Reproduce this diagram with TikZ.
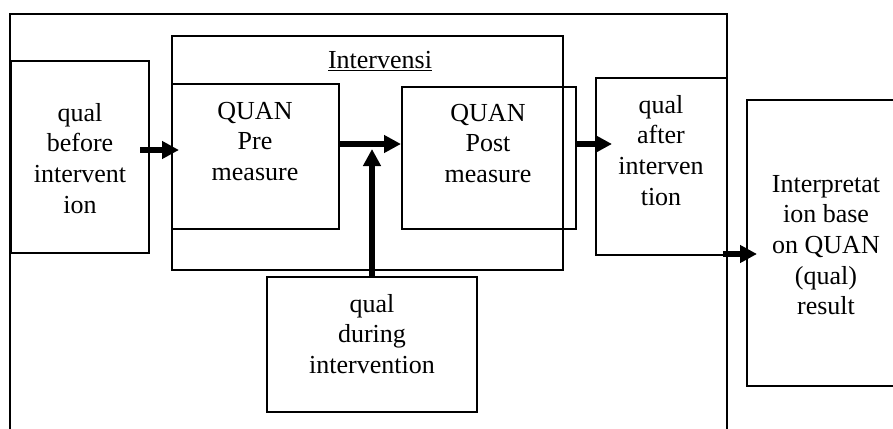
\documentclass[tikz,border=0pt]{standalone}
\usepackage{fontspec}
\setmainfont{Liberation Serif}
\usetikzlibrary{arrows.meta,calc}
\tikzset{
  box/.style={draw, line width=1.5pt, inner sep=0pt, outer sep=0pt, rectangle},
  txt/.style={align=center, inner sep=0pt, anchor=north, font=\fontsize{26}{30.7}\selectfont},
  arr/.style={line width=5.5pt, -{Triangle[length=17pt,width=17pt]}}
}
\begin{document}
\begin{tikzpicture}[x=1pt,y=-1pt]
\useasboundingbox (0,0) rectangle (893,428);
\clip (0,0) rectangle (893,428);
% boxes
\node[box, minimum width=717pt, minimum height=426pt] (outer) at (368.5,227) {};
\node[box, minimum width=391pt, minimum height=234pt] (interv) at (367.5,153) {};
\node[box, minimum width=138pt, minimum height=192pt] (before) at (80,157) {};
\node[box, minimum width=167pt, minimum height=145pt] (pre) at (255.5,156.5) {};
\node[box, minimum width=174pt, minimum height=142pt] (post) at (489,158) {};
\node[box, minimum width=131pt, minimum height=177pt] (after) at (661.5,166.5) {};
\node[box, minimum width=210pt, minimum height=135pt] (during) at (372,344.5) {};
\node[box, minimum width=148pt, minimum height=286pt] (interp) at (821,243) {};
% texts
\node[txt] (intervtxt) at (380,46.5) {\strut\underline{Intervensi}};
\node[txt] (beforetxt) at (80,99.5) {\strut qual\\before\\intervent\\ion};
\node[txt] (pretxt) at (255,97.5) {\strut QUAN\\Pre\\measure};
\node[txt] (posttxt) at (488,99.5) {\strut QUAN\\Post\\measure};
\node[txt] (aftertxt) at (661,91.5) {\strut qual\\after\\interven\\tion};
\node[txt] (interptxt) at (826,170.5) {\strut Interpretat\\ion base\\on QUAN\\(qual)\\result};
\node[txt] (duringtxt) at (372,290.5) {\strut qual\\during\\intervention};
% arrows
\draw[arr] ($(before.east)+(-9,-7)$) -- ($(pre.west)+(7,-6.5)$);
\draw[arr] ($(pre.east)+(-1,-12.5)$) -- ($(post.west)+(-1,-14)$);
\draw[arr] (during.north) -- ($(during.north)+(0,-128)$);
\draw[arr] ($(post.east)+(-1,-14)$) -- ($(after.west)+(16,-22.5)$);
\draw[arr] ($(after.south east)+(-4,-1)$) -- ($(interp.west)+(10,11)$);
\end{tikzpicture}
\end{document}
